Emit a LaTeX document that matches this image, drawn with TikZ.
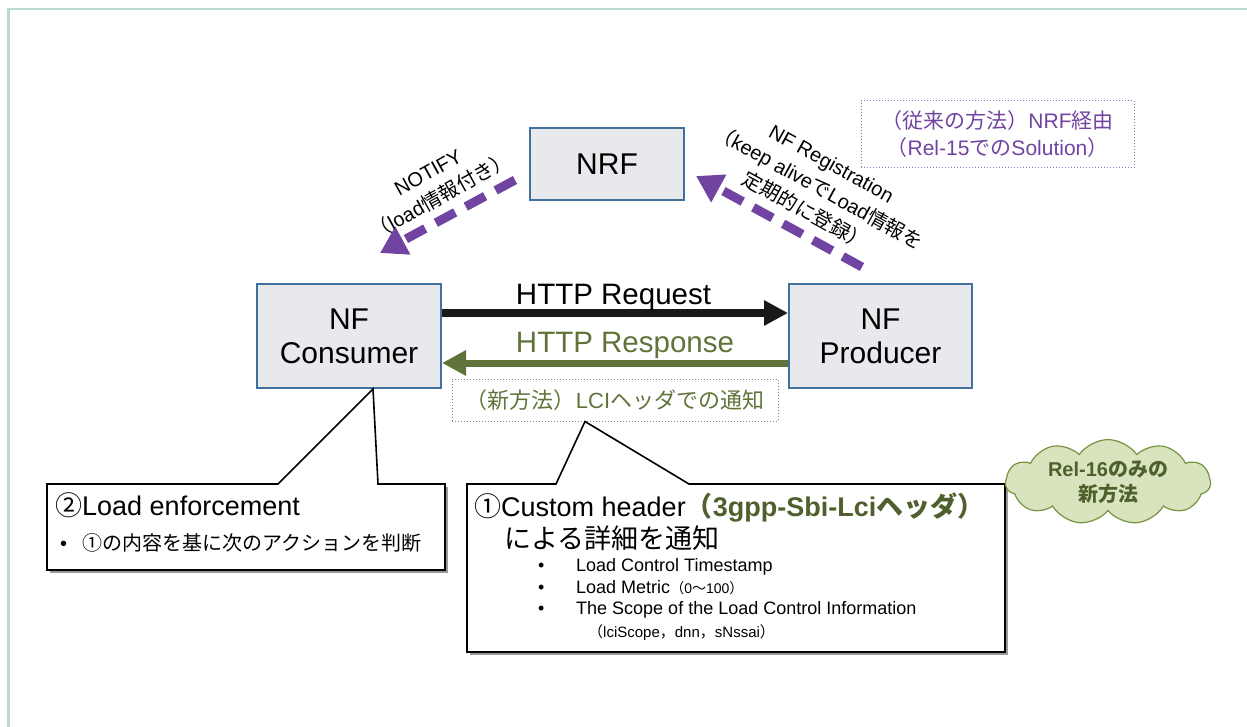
\documentclass[tikz,border=0pt]{standalone}
\usepackage{fontspec}
\setmainfont{Liberation Sans}
\newfontfamily\jp{Noto Sans CJK JP}
\newcommand\J[1]{{\jp #1}}
\newcommand\fs[2]{\fontsize{#1}{#2}\selectfont}
\usetikzlibrary{arrows.meta,shapes.symbols}

\definecolor{frameteal}{RGB}{184,218,211}
\definecolor{nfblue}{RGB}{65,113,156}
\definecolor{nffill}{RGB}{233,233,237}
\definecolor{lavender}{RGB}{112,68,160}
\definecolor{olive}{RGB}{96,116,58}
\definecolor{darkolive}{RGB}{80,96,44}
\definecolor{cloudfill}{RGB}{215,228,189}
\definecolor{cloudline}{RGB}{120,146,64}

\begin{document}
\begin{tikzpicture}[x=1pt,y=-1pt,
  nfbox/.style={draw=nfblue, line width=2pt, fill=nffill, inner sep=0pt,
    align=center, font=\fs{30}{34}},
  reqarrow/.style={draw=black!90, line width=8pt, -{Triangle[length=24pt,width=24pt]}},
  resarrow/.style={draw=olive, line width=7pt, -{Triangle[length=24pt,width=24pt]}},
  navarrow/.style={draw=lavender, line width=9pt, dash pattern=on 22pt off 12pt,
    -{Triangle[length=26pt,width=30pt]}},
  navlabel/.style={align=center, font=\fs{20}{27}, inner sep=0pt},
  anchorbox/.style={inner sep=0pt, outer sep=0pt},
  callout/.style={draw=black, line width=1.6pt, fill=white, line join=miter},
  calshadow/.style={fill=black!40},
  txt/.style={anchor=base west, inner sep=0pt},
]
\useasboundingbox (0,0) rectangle (1247,727);

% page frame
\draw[frameteal, line width=2.5pt] (8.5,727) -- (8.5,9) -- (1247,9);

% network functions
\node[nfbox, minimum width=154pt, minimum height=72pt] (nrf) at (607,164) {NRF};
\node[nfbox, minimum width=184pt, minimum height=104pt] (cons) at (349,336) {NF\\Consumer};
\node[nfbox, minimum width=183pt, minimum height=104pt] (prod) at (880.5,336) {NF\\Producer};

% HTTP exchange
\draw[reqarrow] ([yshift=23pt]cons.east) -- ([yshift=23pt]prod.west);
\draw[resarrow] ([yshift=-27pt]prod.west) -- ([yshift=-27pt]cons.east);
\node[anchor=base, inner sep=0pt, font=\fs{29.5}{34}] (req) at (613.5,304) {HTTP Request};
\node[anchor=base, inner sep=0pt, font=\fs{29.5}{34}, text=olive] (res) at (625,352) {HTTP Response};

\node[draw=olive!80, dotted, line width=1pt, minimum width=326pt, minimum height=42pt,
  inner sep=0pt, text=olive, font=\fs{22}{26}] (lci) at (615,400)
  {\J{（新方法）}LCI\J{ヘッダでの通知}};

% NRF based signalling
\coordinate (ntail) at (515,180);
\coordinate (ntip) at (380,253);
\coordinate (rtail) at (862,267);
\coordinate (rtip) at (696,176);
\draw[navarrow] (ntail) -- (ntip);
\draw[navarrow] (rtail) -- (rtip);
\node[navlabel, rotate=29] (notify) at (435,185) {NOTIFY\\\J{（}load\J{情報付き）}};
\node[navlabel, rotate=-29] (reg) at (818,188)
  {NF Registration\\\J{（}keep alive\J{で}Load\J{情報を}\\\J{定期的に登録）}};

\node[draw=lavender!75, dotted, line width=1pt, minimum width=273pt, minimum height=67pt,
  inner sep=0pt, align=center, text=lavender, font=\fs{21}{27}] (old) at (997.5,134.5)
  {\J{（従来の方法）}NRF\J{経由}\\\J{（}Rel-15\J{での}Solution\J{）}};

% callout: load enforcement
\node[anchorbox, minimum width=398pt, minimum height=86pt, anchor=north west] (enf) at (47,484) {};
\coordinate (enfapex) at ([xshift=24pt]cons.south);
\fill[calshadow] ([shift={(2.5pt,-2.5pt)}]enf.north west) rectangle ([shift={(2.5pt,-2.5pt)}]enf.south east);
\draw[callout] (enf.north west) -- ([xshift=231pt]enf.north west) -- (enfapex)
  -- ([xshift=331pt]enf.north west) -- (enf.north east) -- (enf.south east)
  -- (enf.south west) -- cycle;
\node[txt, font=\fs{27}{32}] (enft) at (55,515) {\J{②}Load enforcement};
\node[txt, font=\fs{20}{24}] (enfb) at (60,550) {•};
\node[txt, font=\fs{20}{24}] (enfl) at (82,550) {\J{①の内容を基に次のアクションを判断}};

% callout: custom header
\node[anchorbox, minimum width=538pt, minimum height=168pt, anchor=north west] (hdr) at (467,484) {};
\coordinate (hdrapex) at ([xshift=-30pt]lci.south);
\fill[calshadow] ([shift={(2.5pt,-2.5pt)}]hdr.north west) rectangle ([shift={(2.5pt,-2.5pt)}]hdr.south east);
\draw[callout] (hdr.north west) -- ([xshift=89pt]hdr.north west) -- (hdrapex)
  -- ([xshift=222pt]hdr.north west) -- (hdr.north east) -- (hdr.south east)
  -- (hdr.south west) -- cycle;
\node[txt, font=\fs{27}{32}] (hdr1) at (474,516)
  {\J{①}Custom header\textcolor{darkolive}{\bfseries\J{（}3gpp-Sbi-Lci\J{ヘッダ）}}};
\node[txt, font=\fs{27}{32}] (hdr2) at (504,548) {\J{による詳細を通知}};
\node[txt, font=\fs{18}{22}] (bu1) at (538,571) {•};
\node[txt, font=\fs{18}{22}] (it1) at (576,571) {Load Control Timestamp};
\node[txt, font=\fs{18}{22}] (bu2) at (538,593) {•};
\node[txt, font=\fs{18}{22}] (it2) at (576,593) {Load Metric{\fs{14}{18}\J{（}0\J{～}100\J{）}}};
\node[txt, font=\fs{18}{22}] (bu3) at (538,614) {•};
\node[txt, font=\fs{18}{22}] (it3) at (576,614) {The Scope of the Load Control Information};
\node[txt, font=\fs{15}{18}] (it4) at (588,637) {\J{（}lciScope\J{，}dnn\J{，}sNssai\J{）}};

% release note
\node[cloud, cloud puffs=11, cloud puff arc=110, aspect=3, draw=cloudline, fill=cloudfill,
  line width=1.2pt, minimum width=205pt, minimum height=68pt, inner sep=0pt, align=center,
  font=\bfseries\fs{20}{25}, text=darkolive] (rel16) at (1108,482)
  {Rel-16\J{のみの}\\\J{新方法}};
\end{tikzpicture}
\end{document}
